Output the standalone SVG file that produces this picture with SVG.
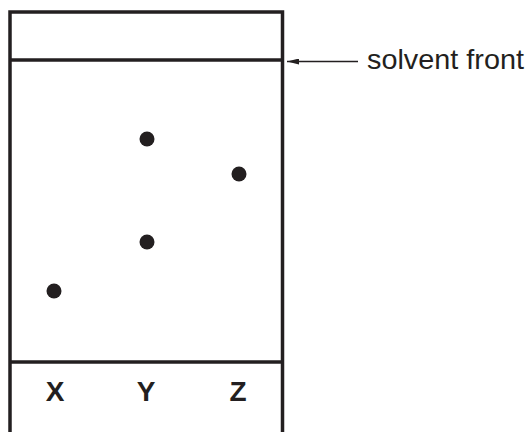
<svg xmlns="http://www.w3.org/2000/svg" width="531" height="432" viewBox="0 0 531 432">
<defs>
<style>
.frame{fill:none;stroke:#231f20;stroke-width:3.5}
.spot{fill:#231f20}
.lbl{font-family:"Liberation Sans",Arial,sans-serif;font-weight:bold;font-size:28px;fill:#231f20;text-anchor:middle}
.note{font-family:"Liberation Sans",Arial,sans-serif;font-size:28px;fill:#231f20}
.conn{stroke:#231f20;stroke-width:1.3;fill:none}
</style>
<marker id="ah" viewBox="0 0 12 6" refX="12" refY="3" markerWidth="12" markerHeight="6" markerUnits="userSpaceOnUse" orient="auto">
<path d="M0,0 L12,3 L0,6 z" fill="#231f20"/>
</marker>
</defs>
<g id="plate">
<path class="frame" d="M10,432 V12 H282.5 V432"/>
<line class="frame" x1="10" y1="60" x2="282.5" y2="60"/>
<line class="frame" x1="10" y1="362" x2="282.5" y2="362"/>
</g>
<g id="spots">
<circle class="spot" cx="147" cy="139" r="7.5"/>
<circle class="spot" cx="239" cy="174" r="7.5"/>
<circle class="spot" cx="147" cy="242" r="7.5"/>
<circle class="spot" cx="54" cy="291" r="7.5"/>
</g>
<g id="labels">
<text class="lbl" x="55" y="401">X</text>
<text class="lbl" x="146" y="401">Y</text>
<text class="lbl" x="238" y="401">Z</text>
</g>
<g id="connectors">
<line class="conn" x1="358" y1="61.5" x2="287" y2="61.5" marker-end="url(#ah)"/>
</g>
<g id="solvent-front-label">
<text class="note" x="367" y="69" textLength="157" lengthAdjust="spacingAndGlyphs">solvent front</text>
</g>
</svg>
